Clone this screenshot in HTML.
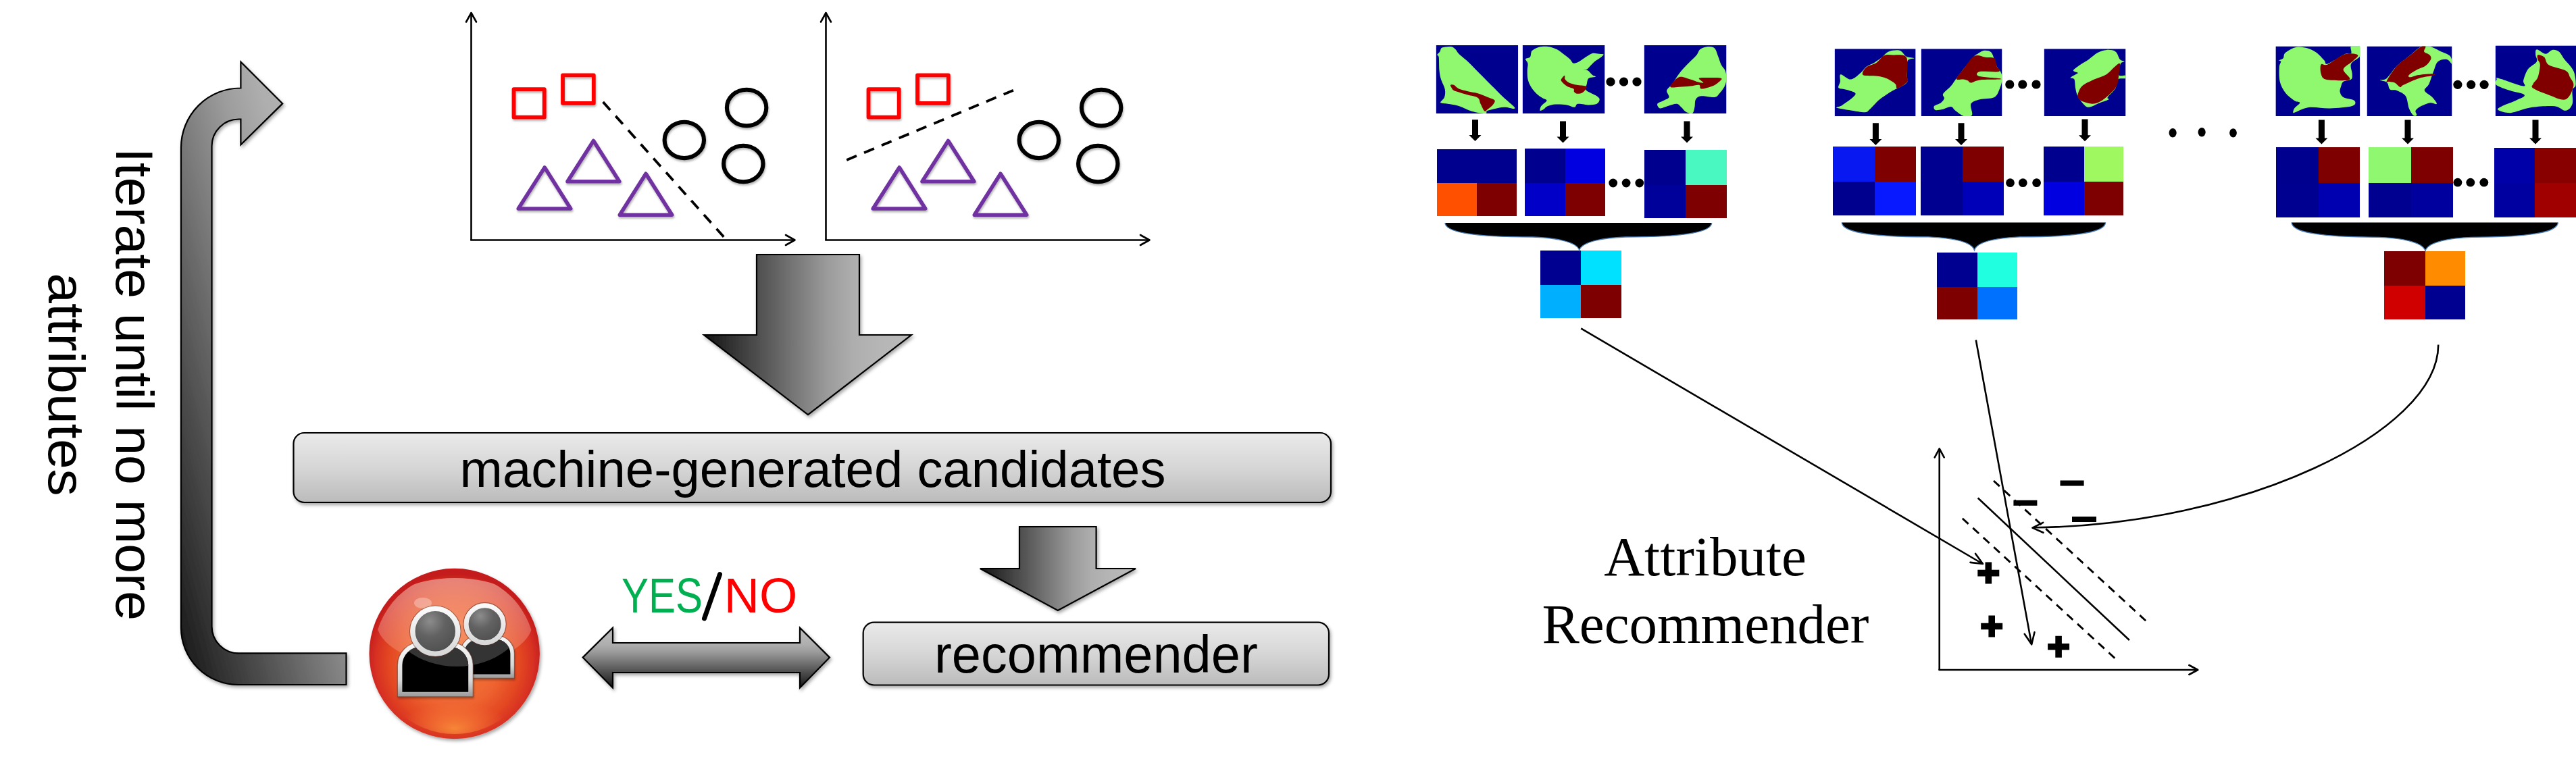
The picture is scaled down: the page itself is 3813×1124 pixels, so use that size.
<!DOCTYPE html>
<html><head><meta charset="utf-8"><style>
html,body{margin:0;padding:0;background:#fff;overflow:hidden;}
svg{display:block;}
</style></head><body>
<svg width="3813" height="1124" viewBox="0 0 3813 1124">
<rect width="3813" height="1124" fill="#fff"/>

<defs>
 <filter id="sh" x="-20%" y="-20%" width="140%" height="140%">
   <feDropShadow dx="2" dy="3" stdDeviation="2.5" flood-color="#000" flood-opacity="0.35"/>
 </filter>
 <filter id="shs" x="-20%" y="-20%" width="140%" height="140%">
   <feDropShadow dx="1" dy="2.5" stdDeviation="1.5" flood-color="#000" flood-opacity="0.3"/>
 </filter>
 <linearGradient id="gCurve" x1="0" y1="1" x2="1" y2="0">
   <stop offset="0" stop-color="#141414"/>
   <stop offset="0.6" stop-color="#9c9c9c"/>
   <stop offset="0.72" stop-color="#aeaeae"/>
   <stop offset="0.85" stop-color="#b6b6b6"/>
   <stop offset="1" stop-color="#bababa"/>
 </linearGradient>
 <linearGradient id="gH" x1="0" y1="0" x2="1" y2="0">
   <stop offset="0" stop-color="#141414"/>
   <stop offset="0.6" stop-color="#9c9c9c"/>
   <stop offset="0.72" stop-color="#aeaeae"/>
   <stop offset="0.85" stop-color="#b6b6b6"/>
   <stop offset="1" stop-color="#bababa"/>
 </linearGradient>
 <linearGradient id="gV" x1="0" y1="1" x2="0" y2="0">
   <stop offset="0" stop-color="#141414"/>
   <stop offset="0.6" stop-color="#9c9c9c"/>
   <stop offset="0.72" stop-color="#aeaeae"/>
   <stop offset="0.85" stop-color="#b6b6b6"/>
   <stop offset="1" stop-color="#bababa"/>
 </linearGradient>
 <linearGradient id="gBox" x1="0" y1="0" x2="0" y2="1">
   <stop offset="0" stop-color="#eaeaea"/>
   <stop offset="0.5" stop-color="#d6d6d6"/>
   <stop offset="1" stop-color="#bbbbbb"/>
 </linearGradient>
 <radialGradient id="gBall" cx="0.5" cy="0.55" r="0.52">
   <stop offset="0" stop-color="#f47a3a"/>
   <stop offset="0.5" stop-color="#ef6430"/>
   <stop offset="0.72" stop-color="#e44a24"/>
   <stop offset="0.88" stop-color="#d83224"/>
   <stop offset="1" stop-color="#c41c1c"/>
 </radialGradient>
 <linearGradient id="gBallHi" x1="0" y1="0" x2="0" y2="1">
   <stop offset="0" stop-color="#ffe0d0" stop-opacity="0.5"/>
   <stop offset="1" stop-color="#ffd0c0" stop-opacity="0.18"/>
 </linearGradient>
 <radialGradient id="gBallLow" cx="0.5" cy="0.85" r="0.5">
   <stop offset="0" stop-color="#ffa040" stop-opacity="0.7"/>
   <stop offset="1" stop-color="#ff8040" stop-opacity="0"/>
 </radialGradient>
 <radialGradient id="gHead" cx="0.38" cy="0.28" r="0.75">
   <stop offset="0" stop-color="#8c8c8c"/>
   <stop offset="0.45" stop-color="#626262"/>
   <stop offset="1" stop-color="#4e4e4e"/>
 </radialGradient>
 <linearGradient id="gSilverR" x1="0" y1="0" x2="0" y2="1">
   <stop offset="0" stop-color="#fafafa"/>
   <stop offset="1" stop-color="#d8d8d8"/>
 </linearGradient>
 <linearGradient id="gSilver" x1="0" y1="0" x2="0" y2="1">
   <stop offset="0" stop-color="#f8f8f8"/>
   <stop offset="0.7" stop-color="#d8d8d8"/>
   <stop offset="1" stop-color="#9a9a9a"/>
 </linearGradient>
 <linearGradient id="gBody" x1="0" y1="0" x2="0" y2="1">
   <stop offset="0" stop-color="#3a3a3a"/>
   <stop offset="0.35" stop-color="#0a0a0a"/>
   <stop offset="1" stop-color="#000"/>
 </linearGradient>
 <marker id="mOpen" markerWidth="20" markerHeight="20" refX="10" refY="10" orient="auto" markerUnits="userSpaceOnUse">
 </marker>
</defs>

<path d="M356.4 130.5 A88 88 0 0 0 268 218.5 L268 929.5 A84.5 84.5 0 0 0 352.5 1014 L512.5 1014 L512.5 967.4 L353.5 967.4 A40 40 0 0 1 313.5 927.4 L313.5 216.5 A40 40 0 0 1 353.5 176.5 L356.4 176.5 L356.4 214.3 L418.2 153.4 L356.4 91.6 Z" fill="url(#gCurve)" stroke="#000" stroke-width="2.2" stroke-linejoin="miter" filter="url(#sh)"/><text transform="translate(171.5,569) rotate(90)" font-family="Liberation Sans" font-size="77" text-anchor="middle" fill="#000" textLength="700" lengthAdjust="spacingAndGlyphs">Iterate until no more</text><text transform="translate(72,569.5) rotate(90)" font-family="Liberation Sans" font-size="76" text-anchor="middle" fill="#000" textLength="330.6" lengthAdjust="spacingAndGlyphs">attributes</text><line x1="697.5" y1="19" x2="697.5" y2="355.5" stroke="#000" stroke-width="2.6"/><line x1="696.2" y1="355.5" x2="1176" y2="355.5" stroke="#000" stroke-width="2.6"/><polyline points="705.0,32.5 697.5,19.0 690.0,32.5" fill="none" stroke="#000" stroke-width="2.6" stroke-linecap="round" stroke-linejoin="round"/><polyline points="1163.0,363.0 1176.5,355.5 1163.0,348.0" fill="none" stroke="#000" stroke-width="2.6" stroke-linecap="round" stroke-linejoin="round"/><g filter="url(#shs)"><rect x="760.5" y="132.2" width="45.2" height="41.4" fill="none" stroke="#ff0000" stroke-width="5.8" stroke-linejoin="round"/><rect x="833" y="111.3" width="45.8" height="41.5" fill="none" stroke="#ff0000" stroke-width="5.8" stroke-linejoin="round"/><polygon points="806.2,248 844.7,309 767.2,309" fill="none" stroke="#7030a0" stroke-width="5.6" stroke-linejoin="round"/><polygon points="878.5,208.5 916.8,268.7 840,268.7" fill="none" stroke="#7030a0" stroke-width="5.6" stroke-linejoin="round"/><polygon points="956,257.3 994.7,318.2 917.3,318.2" fill="none" stroke="#7030a0" stroke-width="5.6" stroke-linejoin="round"/><ellipse cx="1012.8" cy="207.4" rx="29.2" ry="26.7" fill="none" stroke="#000" stroke-width="6.1"/><ellipse cx="1105.1" cy="159.5" rx="29.2" ry="26.7" fill="none" stroke="#000" stroke-width="6.1"/><ellipse cx="1100.3" cy="242.5" rx="29.2" ry="26.7" fill="none" stroke="#000" stroke-width="6.1"/></g><line x1="892.6" y1="151" x2="1071.3" y2="350.8" stroke="#000" stroke-width="3.8" stroke-dasharray="16 12"/><line x1="1222.5" y1="19" x2="1222.5" y2="355.5" stroke="#000" stroke-width="2.6"/><line x1="1221.2" y1="355.5" x2="1701" y2="355.5" stroke="#000" stroke-width="2.6"/><polyline points="1230.0,32.5 1222.5,19.0 1215.0,32.5" fill="none" stroke="#000" stroke-width="2.6" stroke-linecap="round" stroke-linejoin="round"/><polyline points="1688.0,363.0 1701.5,355.5 1688.0,348.0" fill="none" stroke="#000" stroke-width="2.6" stroke-linecap="round" stroke-linejoin="round"/><g filter="url(#shs)"><rect x="1285.5" y="132.2" width="45.2" height="41.4" fill="none" stroke="#ff0000" stroke-width="5.8" stroke-linejoin="round"/><rect x="1358" y="111.3" width="45.8" height="41.5" fill="none" stroke="#ff0000" stroke-width="5.8" stroke-linejoin="round"/><polygon points="1331.2,248 1369.7,309 1292.2,309" fill="none" stroke="#7030a0" stroke-width="5.6" stroke-linejoin="round"/><polygon points="1403.5,208.5 1441.8,268.7 1365,268.7" fill="none" stroke="#7030a0" stroke-width="5.6" stroke-linejoin="round"/><polygon points="1481,257.3 1519.7,318.2 1442.3,318.2" fill="none" stroke="#7030a0" stroke-width="5.6" stroke-linejoin="round"/><ellipse cx="1537.8" cy="207.4" rx="29.2" ry="26.7" fill="none" stroke="#000" stroke-width="6.1"/><ellipse cx="1630.1" cy="159.5" rx="29.2" ry="26.7" fill="none" stroke="#000" stroke-width="6.1"/><ellipse cx="1625.3" cy="242.5" rx="29.2" ry="26.7" fill="none" stroke="#000" stroke-width="6.1"/></g><line x1="1253.2" y1="237" x2="1499.9" y2="133.7" stroke="#000" stroke-width="3.8" stroke-dasharray="16 12"/><path d="M1120 377 L1272 377 L1272 496 L1349 496 L1196 614 L1042 496 L1120 496 Z" fill="url(#gH)" stroke="#000" stroke-width="2.2" filter="url(#sh)"/><rect x="434.5" y="641" width="1535.5" height="103" rx="16" ry="16" fill="url(#gBox)" stroke="#000" stroke-width="2.2" filter="url(#sh)"/><text x="1203" y="720.6" font-family="Liberation Sans" font-size="76" text-anchor="middle" fill="#000" textLength="1045" lengthAdjust="spacingAndGlyphs">machine-generated candidates</text><path d="M1509 780 L1622.6 780 L1622.6 842 L1681 842 L1565.8 904 L1450.7 842 L1509 842 Z" fill="url(#gH)" stroke="#000" stroke-width="2.2" filter="url(#sh)"/><rect x="1277.7" y="921.6" width="689.3" height="92.9" rx="16" ry="16" fill="url(#gBox)" stroke="#000" stroke-width="2.2" filter="url(#sh)"/><text x="1622.4" y="996" font-family="Liberation Sans" font-size="77" text-anchor="middle" fill="#000" textLength="478.8" lengthAdjust="spacingAndGlyphs">recommender</text><text x="920" y="907" font-family="Liberation Sans" font-size="72" fill="#00b050" textLength="120" lengthAdjust="spacingAndGlyphs">YES</text><path d="M1065.5 850.5 L1042.5 916" stroke="#000" stroke-width="7" stroke-linecap="round"/><text x="1071.8" y="907" font-family="Liberation Sans" font-size="72" fill="#ff0000" textLength="108.5" lengthAdjust="spacingAndGlyphs">NO</text><path d="M862.6 973.6 L907 929.6 L907 952 L1184 952 L1184 929.6 L1228 973.6 L1184 1018.5 L1184 996 L907 996 L907 1018.5 Z" fill="url(#gV)" stroke="#000" stroke-width="2.2" filter="url(#sh)"/><g filter="url(#sh)">
<circle cx="672.7" cy="968" r="126.2" fill="url(#gBall)"/>
</g>
<defs><clipPath id="cpGloss"><ellipse cx="676" cy="905" rx="104" ry="82"/></clipPath><clipPath id="cpBall"><circle cx="672.7" cy="968" r="119"/></clipPath></defs>
<g clip-path="url(#cpBall)">
<ellipse cx="673" cy="920" rx="116" ry="64" fill="url(#gBallHi)"/>
<ellipse cx="672.7" cy="1052" rx="85" ry="38" fill="url(#gBallLow)"/>
</g>
<ellipse cx="626" cy="893" rx="13" ry="8" fill="#fff" opacity="0.3"/>
<g filter="url(#shs)"><path d="M681 1004.4 V968 A27 27 0 0 1 708 941 H734.4 A27 27 0 0 1 761.4 968 V1004.4 Z" fill="url(#gSilver)" stroke="#5a3020" stroke-opacity="0.55" stroke-width="1.2"/></g><path d="M687 998.4 V968 A21 21 0 0 1 708 947 H734.4 A21 21 0 0 1 755.4 968 V998.4 Z" fill="#000"/><path d="M687 998.4 V968 A21 21 0 0 1 708 947 H734.4 A21 21 0 0 1 755.4 968 V998.4 Z" fill="#3a3a3a" clip-path="url(#cpGloss)" opacity="0.9"/><circle cx="717.6" cy="924.3" r="31.6" fill="none" stroke="#5a3020" stroke-opacity="0.55" stroke-width="1.2"/><circle cx="717.6" cy="924.3" r="27.5" fill="url(#gHead)" stroke="url(#gSilverR)" stroke-width="7"/><g filter="url(#shs)"><path d="M588.4 1031.8 V985 A34 34 0 0 1 622.4 951 H666.2 A34 34 0 0 1 700.2 985 V1031.8 Z" fill="url(#gSilver)" stroke="#5a3020" stroke-opacity="0.55" stroke-width="1.2"/></g><path d="M595.4 1024.8 V985 A27 27 0 0 1 622.4 958 H666.2 A27 27 0 0 1 693.2 985 V1024.8 Z" fill="#000"/><path d="M595.4 1024.8 V985 A27 27 0 0 1 622.4 958 H666.2 A27 27 0 0 1 693.2 985 V1024.8 Z" fill="#3a3a3a" clip-path="url(#cpGloss)" opacity="0.9"/><circle cx="644.3" cy="934.8" r="37.8" fill="none" stroke="#5a3020" stroke-opacity="0.55" stroke-width="1.2"/><circle cx="644.3" cy="934.8" r="33.5" fill="url(#gHead)" stroke="url(#gSilverR)" stroke-width="7.5"/><g transform="translate(2125.6,67)"><svg x="0" y="0" width="121.6" height="101.2" overflow="hidden"><rect x="0" y="0" width="121.6" height="101.2" fill="#00008f"/><path d="M9.0 3.6 C11.7 2.4 18.7 1.6 22.0 2.0 C25.3 2.4 26.8 4.2 28.8 6.0 C30.8 7.8 31.0 9.9 33.8 12.7 C36.5 15.5 41.2 18.8 45.3 22.6 C49.4 26.4 54.1 31.3 58.5 35.7 C62.9 40.1 67.0 44.2 71.7 48.9 C76.4 53.6 81.8 59.0 86.5 63.7 C91.2 68.4 95.0 72.5 99.7 76.9 C104.4 81.3 111.9 87.2 114.5 90.0 C117.1 92.8 117.8 93.7 115.3 94.0 C112.8 94.3 106.2 91.2 99.7 91.7 C93.2 92.2 81.0 95.2 76.6 96.7 C72.2 98.2 77.1 100.8 73.3 101.0 C69.5 101.2 60.1 99.8 53.5 98.0 C46.9 96.2 39.8 91.9 33.8 90.0 C27.8 88.1 21.8 87.6 17.3 86.8 C12.8 86.0 7.4 86.7 6.6 85.0 C5.8 83.3 11.3 80.2 12.4 76.9 C13.5 73.6 14.0 69.8 13.2 65.4 C12.4 61.0 8.8 55.3 7.4 50.6 C6.0 45.9 5.5 42.9 4.9 37.4 C4.4 31.9 4.6 21.5 4.1 17.6 C3.5 13.8 1.3 15.7 1.6 14.3 C1.9 12.9 4.6 11.2 5.8 9.4 C7.0 7.6 6.3 4.8 9.0 3.6 Z" fill="#90f86f"/><path d="M21.4 58.8 C22.0 58.1 24.3 57.8 26.4 58.8 C28.5 59.8 30.4 63.0 33.8 64.6 C37.2 66.2 42.3 67.1 47.0 68.2 C51.7 69.3 56.9 69.8 61.8 71.2 C66.7 72.7 72.4 75.2 76.6 76.9 C80.8 78.6 85.6 79.6 86.8 81.5 C88.0 83.4 85.8 86.2 84.0 88.5 C82.2 90.8 78.2 93.5 76.2 95.0 C74.2 96.5 73.4 98.9 71.7 97.5 C70.0 96.1 67.6 90.1 65.9 86.8 C64.2 83.5 65.0 80.0 61.8 77.8 C58.6 75.6 51.7 75.0 47.0 73.6 C42.3 72.2 37.2 70.6 33.8 69.5 C30.4 68.4 28.2 68.1 26.4 67.0 C24.6 65.9 23.8 64.3 23.0 62.9 C22.2 61.5 20.8 59.5 21.4 58.8 Z" fill="#800000"/></svg></g><g transform="translate(2253.6,67)"><svg x="0" y="0" width="121.9" height="101.2" overflow="hidden"><rect x="0" y="0" width="121.9" height="101.2" fill="#00008f"/><path d="M14.5 7.7 C16.4 6.3 20.5 3.8 24.4 2.8 C28.2 1.8 33.2 1.5 37.6 2.0 C42.0 2.5 46.6 4.0 50.7 6.1 C54.8 8.2 59.0 11.8 62.3 14.3 C65.6 16.8 68.3 18.9 70.5 21.0 C72.7 23.1 73.3 26.2 75.5 26.7 C77.7 27.2 80.7 25.7 83.7 24.2 C86.7 22.7 90.3 19.7 93.6 17.6 C96.9 15.6 100.1 12.7 103.4 11.9 C106.7 11.1 110.5 12.4 113.3 12.7 C116.0 13.0 119.4 12.7 119.9 13.5 C120.5 14.3 118.8 15.8 116.6 17.6 C114.4 19.4 109.4 22.0 106.7 24.2 C104.0 26.4 102.1 28.9 100.2 30.8 C98.3 32.7 96.9 34.7 95.2 35.7 C93.5 36.7 90.0 36.3 90.3 36.6 C90.6 36.9 94.6 36.2 96.8 37.4 C99.0 38.6 101.5 42.5 103.4 44.0 C105.3 45.5 108.9 45.8 108.4 46.5 C107.9 47.2 102.1 47.4 100.2 48.1 C98.3 48.8 97.6 49.1 96.8 50.6 C96.0 52.1 95.7 54.7 95.2 57.2 C94.7 59.7 92.8 63.2 93.6 65.4 C94.4 67.6 97.5 68.7 100.2 70.3 C102.9 71.9 107.7 73.6 110.0 75.3 C112.3 77.0 114.1 78.3 114.1 80.2 C114.1 82.1 112.6 85.4 110.0 86.8 C107.4 88.2 103.2 88.4 98.5 88.4 C93.8 88.4 85.6 86.2 82.0 86.8 C78.4 87.3 79.8 91.4 77.1 91.7 C74.3 92.0 70.2 89.1 65.5 88.4 C60.8 87.7 53.6 87.3 49.0 87.6 C44.4 87.9 40.6 88.9 37.6 90.1 C34.6 91.3 32.9 93.9 31.0 95.0 C29.1 96.1 26.6 97.5 26.0 96.7 C25.4 95.9 26.1 92.6 27.7 90.1 C29.3 87.6 35.6 83.9 35.9 81.9 C36.2 79.9 31.8 79.8 29.3 78.1 C26.8 76.4 23.8 74.7 21.0 72.0 C18.2 69.3 15.0 65.7 12.8 62.1 C10.6 58.5 8.9 54.7 7.9 50.6 C7.0 46.5 7.1 41.2 7.1 37.4 C7.1 33.5 8.2 30.0 7.9 27.5 C7.6 25.0 6.0 23.8 5.4 22.6 C4.9 21.4 3.6 20.9 4.6 20.1 C5.6 19.3 9.8 19.1 11.2 17.6 C12.6 16.1 12.2 12.7 12.8 11.0 C13.4 9.3 12.6 9.1 14.5 7.7 Z" fill="#90f86f"/><path d="M62.3 44.8 C63.3 44.8 62.0 48.8 63.1 50.6 C64.2 52.4 66.0 54.1 68.9 55.5 C71.8 56.9 76.3 58.0 80.4 58.8 C84.5 59.6 91.3 59.7 93.6 60.5 C95.9 61.3 95.2 62.1 94.4 63.7 C93.6 65.3 90.9 69.0 88.6 70.3 C86.3 71.6 82.5 72.0 80.4 71.7 C78.4 71.4 77.1 69.9 76.3 68.7 C75.5 67.5 77.3 66.0 75.5 64.6 C73.7 63.2 68.5 62.3 65.6 60.5 C62.7 58.7 59.6 55.5 58.2 53.9 C56.8 52.2 56.6 52.1 57.3 50.6 C58.0 49.1 61.3 44.8 62.3 44.8 Z" fill="#800000"/></svg></g><g transform="translate(2433.6,67)"><svg x="0" y="0" width="121.9" height="101.2" overflow="hidden"><rect x="0" y="0" width="121.9" height="101.2" fill="#00008f"/><path d="M94.6 2.0 C98.2 1.7 101.9 2.1 104.4 4.4 C106.9 6.7 107.8 11.9 109.4 16.0 C111.1 20.1 112.5 25.6 114.3 29.2 C116.1 32.8 118.7 34.1 120.0 37.4 C121.3 40.7 122.0 45.0 121.9 48.9 C121.8 52.8 121.1 56.6 119.3 60.5 C117.5 64.3 113.5 69.3 111.0 72.0 C108.5 74.7 108.8 76.4 104.4 76.9 C100.0 77.5 89.4 74.8 84.7 75.3 C80.0 75.8 78.1 77.5 76.4 80.2 C74.8 83.0 75.6 88.4 74.8 91.8 C74.0 95.2 73.7 99.7 71.5 100.8 C69.3 101.9 64.3 99.9 61.6 98.4 C58.9 96.9 57.2 93.7 55.0 91.8 C52.8 89.9 51.7 87.1 48.4 86.8 C45.1 86.5 39.3 88.9 35.2 90.0 C31.1 91.1 26.3 93.9 23.7 93.4 C21.1 92.9 18.8 88.7 19.6 86.8 C20.4 84.9 25.8 83.6 28.7 81.9 C31.6 80.2 36.1 79.4 36.9 76.9 C37.7 74.4 32.8 70.3 33.6 67.0 C34.4 63.7 38.8 61.3 41.8 57.2 C44.8 53.1 48.4 46.7 51.7 42.3 C55.0 37.9 58.6 34.1 61.6 30.8 C64.6 27.5 67.1 25.4 69.8 22.6 C72.5 19.9 75.8 17.1 78.0 14.3 C80.2 11.5 80.2 8.1 83.0 6.0 C85.8 3.9 91.0 2.3 94.6 2.0 Z" fill="#90f86f"/><path d="M38.6 61.3 C38.6 58.9 46.8 49.1 51.7 47.3 C56.6 45.5 63.8 49.5 68.2 50.6 C72.6 51.7 74.7 53.1 78.0 53.9 C81.3 54.7 87.3 56.3 87.8 55.5 C88.3 54.7 80.1 50.1 81.2 48.9 C82.3 47.7 88.9 48.1 94.4 48.1 C99.9 48.1 111.8 47.7 114.3 48.9 C116.8 50.1 111.6 53.6 109.4 55.5 C107.2 57.4 105.3 59.0 101.2 60.5 C97.1 62.0 88.0 64.9 84.7 64.6 C81.4 64.3 84.2 59.5 81.5 58.8 C78.8 58.1 73.2 60.0 68.2 60.5 C63.2 61.0 56.6 61.7 51.7 61.8 C46.8 61.9 38.6 63.7 38.6 61.3 Z" fill="#800000"/></svg></g><g transform="translate(2715.6,72.3)"><svg x="0" y="0" width="120" height="100" overflow="hidden"><rect x="0" y="0" width="120" height="100" fill="#00008f"/><path d="M9.0 37.9 C11.6 37.3 18.9 45.7 23.9 45.3 C28.8 44.9 34.9 38.5 38.7 35.4 C42.6 32.2 43.7 28.9 47.0 26.4 C50.3 23.9 54.7 22.9 58.5 20.6 C62.3 18.3 66.4 15.2 70.0 12.4 C73.6 9.7 75.5 5.8 79.9 4.1 C84.3 2.4 92.0 1.3 96.4 2.5 C100.8 3.7 102.6 9.6 106.2 11.5 C109.8 13.4 117.5 12.9 117.8 14.0 C118.1 15.1 109.7 13.7 107.9 18.1 C106.1 22.5 107.1 35.3 107.1 40.4 C107.1 45.5 109.1 46.1 107.9 48.6 C106.7 51.1 103.3 53.0 99.7 55.2 C96.1 57.4 92.0 58.5 86.5 61.8 C81.0 65.1 72.5 70.3 66.7 75.0 C60.9 79.7 55.5 86.6 51.9 89.8 C48.3 93.0 49.7 93.6 45.3 93.9 C40.9 94.2 31.3 92.2 25.5 91.4 C19.7 90.6 14.5 89.7 10.7 89.0 C6.9 88.3 2.8 88.0 2.5 87.3 C2.2 86.6 7.1 85.8 9.0 84.8 C10.9 83.8 11.0 83.7 14.0 81.5 C17.0 79.3 24.4 74.3 27.2 71.6 C29.9 68.9 32.1 67.2 30.5 65.4 C28.9 63.6 21.4 61.8 17.3 60.5 C13.2 59.2 7.3 59.7 5.8 57.7 C4.3 55.7 7.7 51.9 8.2 48.6 C8.7 45.3 6.4 38.5 9.0 37.9 Z" fill="#90f86f"/><path d="M42.0 38.7 C39.3 36.5 43.7 30.2 47.0 27.2 C50.3 24.2 57.4 23.5 61.8 20.6 C66.2 17.7 69.2 11.8 73.3 9.9 C77.4 8.0 81.0 8.7 86.5 9.1 C92.0 9.5 102.8 7.2 106.2 12.4 C109.6 17.6 106.8 34.4 107.1 40.4 C107.4 46.4 110.2 45.6 107.9 48.6 C105.6 51.6 96.0 58.0 93.0 58.5 C90.0 59.0 92.5 54.4 89.8 51.9 C87.1 49.4 81.0 45.6 76.6 43.7 C72.2 41.8 69.2 41.2 63.4 40.4 C57.6 39.6 44.7 40.9 42.0 38.7 Z" fill="#800000"/></svg></g><g transform="translate(2843.6,72.3)"><svg x="0" y="0" width="119.9" height="99.7" overflow="hidden"><rect x="0" y="0" width="119.9" height="99.7" fill="#00008f"/><path d="M83.7 7.4 C86.2 6.0 90.3 2.9 93.6 2.5 C96.9 2.1 101.0 2.7 103.5 4.9 C106.0 7.1 107.1 12.3 108.5 15.7 C109.9 19.1 110.1 22.2 111.8 25.5 C113.5 28.8 117.0 32.1 118.4 35.4 C119.8 38.7 120.3 41.4 120.0 45.3 C119.7 49.1 118.5 54.1 116.6 58.5 C114.7 62.9 113.4 68.9 108.5 71.6 C103.6 74.3 92.8 73.2 87.0 74.9 C81.2 76.6 75.7 77.7 73.8 81.5 C71.9 85.3 77.1 94.9 75.4 98.0 C73.8 101.1 68.0 101.1 63.9 100.0 C59.8 98.9 54.0 93.8 50.7 91.4 C47.4 89.0 47.4 85.9 44.1 85.6 C40.8 85.3 34.9 89.0 31.0 89.8 C27.1 90.6 22.9 91.4 21.0 90.6 C19.1 89.8 18.0 86.6 19.4 84.8 C20.8 83.0 26.8 81.8 29.3 79.9 C31.8 78.0 33.8 75.5 34.3 73.3 C34.8 71.1 31.0 69.7 32.6 66.7 C34.2 63.7 40.8 59.0 44.1 55.2 C47.4 51.4 49.3 47.8 52.3 43.7 C55.3 39.6 59.3 34.4 62.3 30.5 C65.3 26.6 67.8 23.9 70.5 20.6 C73.2 17.3 76.6 12.9 78.8 10.7 C81.0 8.5 81.2 8.8 83.7 7.4 Z" fill="#90f86f"/><path d="M52.3 44.5 C52.3 42.0 57.9 36.1 62.3 30.5 C66.7 24.9 73.3 13.7 78.8 10.7 C84.3 7.7 90.3 11.8 95.3 12.4 C100.2 13.0 105.8 11.8 108.5 14.0 C111.2 16.2 110.7 22.2 111.8 25.5 C112.9 28.8 119.2 32.4 115.1 33.8 C111.0 35.2 92.0 32.7 87.0 33.8 C82.0 34.9 80.6 38.8 85.3 40.4 C90.0 42.0 110.1 42.9 115.1 43.7 C120.1 44.5 119.8 44.9 115.1 45.3 C110.4 45.7 93.9 45.3 87.0 46.1 C80.1 46.9 76.8 50.1 73.8 50.2 C70.8 50.4 70.8 47.8 68.9 47.0 C67.0 46.2 65.1 45.7 62.3 45.3 C59.5 44.9 52.3 47.0 52.3 44.5 Z" fill="#800000"/></svg></g><g transform="translate(3025.6,72.3)"><svg x="0" y="0" width="120.9" height="99.7" overflow="hidden"><rect x="0" y="0" width="120.9" height="99.7" fill="#00008f"/><path d="M43.2 32.1 C43.7 30.2 49.2 26.6 53.0 23.9 C56.8 21.1 61.8 18.6 66.2 15.6 C70.6 12.6 75.0 8.1 79.4 5.8 C83.8 3.5 88.2 1.9 92.6 1.6 C97.0 1.3 102.5 1.7 105.8 4.1 C109.1 6.4 110.2 13.2 112.4 15.7 C114.6 18.2 118.9 17.9 119.0 19.0 C119.1 20.1 114.6 18.9 113.2 22.2 C111.8 25.5 109.4 35.8 110.7 38.7 C112.0 41.6 119.3 38.7 121.0 39.5 C122.7 40.3 123.0 42.7 121.0 43.7 C119.0 44.7 111.7 42.8 109.2 45.3 C106.7 47.8 108.3 54.1 105.8 58.5 C103.3 62.9 95.9 69.0 94.2 71.7 C92.5 74.5 97.7 73.6 95.8 75.0 C93.9 76.4 87.6 78.0 82.7 79.9 C77.8 81.8 70.3 86.2 66.2 86.5 C62.1 86.8 60.7 84.2 58.0 81.5 C55.3 78.8 51.7 73.8 49.8 70.0 C47.9 66.2 47.3 62.6 46.5 58.5 C45.7 54.4 46.0 47.9 44.8 45.3 C43.5 42.7 38.5 44.2 39.0 42.8 C39.5 41.4 46.2 38.3 48.0 37.1 C49.8 35.9 50.6 36.2 49.8 35.4 C49.0 34.6 42.7 34.0 43.2 32.1 Z" fill="#90f86f"/><path d="M49.8 68.4 C50.6 65.2 52.2 59.1 56.3 55.2 C60.4 51.4 68.4 48.2 74.4 45.3 C80.5 42.4 87.4 40.9 92.6 37.6 C97.8 34.3 102.5 28.1 105.8 25.5 C109.1 22.9 111.6 20.0 112.4 22.2 C113.2 24.4 111.5 33.2 110.7 38.7 C109.9 44.2 109.9 50.2 107.4 55.2 C104.9 60.2 100.0 64.6 95.9 68.4 C91.8 72.2 86.8 76.1 82.7 78.3 C78.6 80.5 75.3 81.5 71.2 81.5 C67.1 81.5 61.3 79.5 58.0 78.3 C54.7 77.1 52.8 75.8 51.4 74.1 C50.0 72.4 49.0 71.6 49.8 68.4 Z" fill="#800000"/></svg></g><g transform="translate(3368.4,68.5)"><svg x="0" y="0" width="124.9" height="103.5" overflow="hidden"><rect x="0" y="0" width="124.9" height="103.5" fill="#00008f"/><path d="M14.5 9.6 C17.8 6.8 25.5 2.4 31.0 1.3 C36.5 0.2 42.5 1.6 47.4 3.0 C52.3 4.4 56.5 6.6 60.6 9.6 C64.7 12.6 69.4 18.4 72.1 21.1 C74.8 23.8 72.0 27.5 77.0 26.0 C82.0 24.5 96.0 14.6 101.8 12.0 C107.6 9.4 110.0 12.4 111.7 10.4 C113.4 8.4 109.5 1.7 111.7 0.0 C113.9 -1.7 122.8 -2.4 125.0 0.0 C127.2 2.4 127.2 10.2 125.0 14.5 C122.8 18.8 113.7 21.6 111.7 26.0 C109.8 30.4 113.3 36.9 113.3 40.8 C113.3 44.6 113.9 47.2 111.7 49.1 C109.5 51.0 102.7 50.8 100.2 52.4 C97.7 54.0 97.7 56.5 96.9 59.0 C96.1 61.5 94.7 64.5 95.2 67.2 C95.8 69.9 96.6 73.2 100.2 75.4 C103.8 77.6 114.4 78.2 116.6 80.4 C118.8 82.6 119.3 86.7 113.3 88.6 C107.3 90.5 90.8 91.6 80.4 91.9 C70.0 92.2 58.9 89.5 50.7 90.3 C42.5 91.1 35.1 95.5 31.0 96.9 C26.9 98.3 26.6 99.3 26.0 98.5 C25.4 97.7 26.1 94.4 27.7 91.9 C29.3 89.4 35.9 85.6 35.9 83.7 C35.9 81.8 31.3 82.9 27.7 80.4 C24.1 77.9 18.1 73.6 14.5 68.9 C10.9 64.2 7.8 58.7 6.3 52.4 C4.8 46.1 5.1 36.0 5.4 31.0 C5.7 26.1 8.0 24.3 7.9 22.7 C7.8 21.1 4.0 21.9 4.6 21.1 C5.1 20.3 9.5 19.7 11.2 17.8 C12.8 15.9 11.2 12.3 14.5 9.6 Z" fill="#90f86f"/><path d="M67.2 26.9 C68.8 24.6 71.2 29.4 77.0 26.9 C82.8 24.4 94.4 14.3 101.8 12.0 C109.2 9.7 119.7 11.1 121.6 12.9 C123.5 14.7 116.9 19.1 113.3 22.7 C109.7 26.3 100.8 30.0 100.2 34.3 C99.7 38.6 110.5 45.6 110.0 48.3 C109.5 51.0 102.9 50.6 96.9 50.7 C90.9 50.8 78.8 50.8 73.8 49.1 C68.8 47.5 68.3 44.5 67.2 40.8 C66.1 37.1 65.6 29.2 67.2 26.9 Z" fill="#800000"/></svg></g><g transform="translate(3503.5,68.5)"><svg x="0" y="0" width="126" height="103.5" overflow="hidden"><rect x="0" y="0" width="126" height="103.5" fill="#00008f"/><path d="M19.4 49.9 C19.7 49.1 25.2 50.8 29.3 47.4 C33.4 44.0 38.9 34.5 44.1 29.3 C49.3 24.1 54.5 20.9 60.6 16.1 C66.7 11.3 74.9 3.1 80.4 0.5 C85.9 -2.1 88.6 -0.7 93.5 0.5 C98.4 1.7 105.0 5.6 110.0 7.9 C115.0 10.2 120.5 11.5 123.2 14.5 C125.9 17.5 126.8 25.2 126.0 26.0 C125.2 26.8 121.8 19.9 118.3 19.4 C114.8 18.8 108.4 19.7 105.1 22.7 C101.8 25.7 100.7 32.1 98.5 37.6 C96.3 43.1 94.2 51.0 92.0 55.7 C89.8 60.4 84.5 62.3 85.3 65.6 C86.1 68.9 93.8 72.2 96.8 75.5 C99.8 78.8 104.0 83.9 103.4 85.3 C102.9 86.7 97.3 83.2 93.5 83.7 C89.7 84.2 84.0 86.7 80.4 88.6 C76.8 90.5 73.2 93.0 72.1 95.2 C71.0 97.4 74.3 100.6 73.8 101.8 C73.3 103.0 70.8 104.2 68.9 102.6 C67.0 100.9 64.2 96.7 62.3 91.9 C60.4 87.1 60.3 78.2 57.3 73.8 C54.3 69.4 47.9 67.2 44.1 65.6 C40.3 64.0 36.5 65.7 34.3 64.0 C32.1 62.4 32.1 57.6 31.0 55.7 C29.9 53.8 29.6 53.4 27.7 52.4 C25.8 51.4 19.1 50.7 19.4 49.9 Z" fill="#90f86f"/><path d="M29.3 51.4 C31.2 47.5 38.9 35.2 44.1 29.3 C49.3 23.4 54.5 20.9 60.6 16.1 C66.7 11.3 76.0 3.1 80.4 0.5 C84.8 -2.1 86.3 -0.8 87.0 0.5 C87.7 1.8 83.7 5.9 84.7 8.0 C85.7 10.1 91.2 11.0 92.9 12.9 C94.6 14.8 95.7 16.7 94.6 19.4 C93.5 22.1 89.7 26.8 86.4 29.3 C83.1 31.8 78.9 32.1 74.9 34.3 C70.9 36.5 64.1 40.6 62.3 42.5 C60.5 44.4 61.5 45.8 64.0 45.8 C66.5 45.8 71.3 43.3 77.1 42.5 C82.8 41.7 94.9 40.7 98.5 40.8 C102.1 40.9 102.1 42.2 98.5 43.3 C94.9 44.4 84.5 45.1 77.1 47.4 C69.7 49.7 58.6 55.1 54.0 57.3 C49.4 59.5 51.5 61.1 49.4 60.6 C47.3 60.1 43.9 55.4 41.2 54.0 C38.5 52.6 35.0 52.8 33.0 52.4 C31.0 52.0 27.4 55.2 29.3 51.4 Z" fill="#800000"/></svg></g><g transform="translate(3693.6,67.4)"><svg x="0" y="0" width="119.4" height="104.6" overflow="hidden"><rect x="0" y="0" width="119.4" height="104.6" fill="#00008f"/><path d="M2.0 50.2 C2.6 48.6 -1.3 47.0 5.3 48.6 C11.9 50.2 35.5 59.6 41.5 60.1 C47.5 60.6 40.4 56.0 41.5 51.9 C42.6 47.8 44.8 40.1 48.1 35.4 C51.4 30.7 59.4 27.5 61.3 23.9 C63.2 20.3 59.6 17.0 59.6 14.0 C59.6 11.0 58.8 6.1 61.3 5.8 C63.8 5.5 70.7 12.3 74.5 12.4 C78.3 12.5 81.0 7.1 84.3 6.6 C87.6 6.0 91.2 6.8 94.2 9.1 C97.2 11.4 99.4 16.8 102.4 20.6 C105.4 24.4 109.8 28.5 112.3 32.1 C114.8 35.7 116.2 37.6 117.3 42.0 C118.4 46.4 119.5 54.4 119.0 58.5 C118.5 62.6 114.8 62.0 114.0 66.7 C113.2 71.4 115.7 81.5 114.0 86.5 C112.3 91.5 108.5 95.9 104.1 96.4 C99.7 97.0 95.8 90.6 87.6 89.8 C79.4 89.0 64.3 90.0 54.7 91.4 C45.1 92.8 36.0 96.6 30.0 98.0 C24.0 99.4 22.9 100.2 18.5 99.7 C14.1 99.2 4.4 96.7 3.6 94.8 C2.8 92.9 9.1 90.4 13.5 88.2 C17.9 86.0 25.1 84.0 30.0 81.5 C35.0 79.0 44.6 75.8 43.2 73.3 C41.8 70.8 28.6 69.2 21.7 66.7 C14.8 64.2 4.9 61.2 1.6 58.5 C-1.7 55.8 1.4 51.9 2.0 50.2 Z" fill="#90f86f"/><path d="M62.9 14.0 C64.5 13.4 69.8 14.8 72.5 17.3 C75.2 19.8 74.0 25.5 79.3 28.8 C84.5 32.1 98.8 34.1 104.0 37.1 C109.2 40.1 108.5 43.1 110.5 46.9 C112.5 50.7 116.8 54.6 115.7 60.1 C114.6 65.6 110.1 77.7 104.0 79.9 C97.9 82.1 87.3 76.0 79.3 73.3 C71.3 70.5 59.9 66.2 56.0 63.4 C52.1 60.6 54.9 59.5 56.0 56.8 C57.1 54.0 61.2 51.6 62.9 46.9 C64.6 42.2 66.2 33.2 66.2 28.8 C66.2 24.4 63.5 23.1 62.9 20.6 C62.3 18.1 61.3 14.6 62.9 14.0 Z" fill="#800000"/></svg></g><circle cx="2384" cy="121.2" r="6.6" fill="#000"/><circle cx="2403.5" cy="121.2" r="6.6" fill="#000"/><circle cx="2423" cy="121.2" r="6.6" fill="#000"/><circle cx="2974.8" cy="125" r="6.6" fill="#000"/><circle cx="2993.8" cy="125" r="6.6" fill="#000"/><circle cx="3014" cy="125" r="6.6" fill="#000"/><circle cx="3637.9" cy="125.3" r="6.6" fill="#000"/><circle cx="3657.7" cy="125.3" r="6.6" fill="#000"/><circle cx="3677.1" cy="125.3" r="6.6" fill="#000"/><circle cx="2387.7" cy="271" r="6.4" fill="#000"/><circle cx="2407.1" cy="271" r="6.4" fill="#000"/><circle cx="2426.8" cy="271" r="6.4" fill="#000"/><circle cx="2975.5" cy="270.7" r="6.4" fill="#000"/><circle cx="2994.3" cy="270.7" r="6.4" fill="#000"/><circle cx="3014.6" cy="270.7" r="6.4" fill="#000"/><circle cx="3637.9" cy="270.2" r="6.4" fill="#000"/><circle cx="3656.8" cy="270.2" r="6.4" fill="#000"/><circle cx="3676.8" cy="270.2" r="6.4" fill="#000"/><ellipse cx="3216.1" cy="196.8" rx="5.6" ry="6.7" fill="#000"/><ellipse cx="3259.1" cy="195.8" rx="5.6" ry="6.7" fill="#000"/><ellipse cx="3305.5" cy="196.8" rx="5.4" ry="6.6" fill="#000"/><path d="M2179.0 177.3 L2188.0 177.3 L2188.0 199.9 L2192.5 199.9 L2183.5 208.9 L2174.5 199.9 L2179.0 199.9 Z" fill="#000"/><path d="M2309.0 179.4 L2318.0 179.4 L2318.0 202.6 L2322.5 202.6 L2313.5 211.6 L2304.5 202.6 L2309.0 202.6 Z" fill="#000"/><path d="M2492.5 179.4 L2501.5 179.4 L2501.5 202.6 L2506 202.6 L2497 211.6 L2488 202.6 L2492.5 202.6 Z" fill="#000"/><path d="M2771.9 182.3 L2780.9 182.3 L2780.9 206 L2785.4 206 L2776.4 215 L2767.4 206 L2771.9 206 Z" fill="#000"/><path d="M2898.5 182.3 L2907.5 182.3 L2907.5 206 L2912 206 L2903 215 L2894 206 L2898.5 206 Z" fill="#000"/><path d="M3081.5 176.5 L3090.5 176.5 L3090.5 200.3 L3095 200.3 L3086 209.3 L3077 200.3 L3081.5 200.3 Z" fill="#000"/><path d="M3431.9 177.4 L3440.9 177.4 L3440.9 204.6 L3445.4 204.6 L3436.4 213.6 L3427.4 204.6 L3431.9 204.6 Z" fill="#000"/><path d="M3559.5 177.4 L3568.5 177.4 L3568.5 204.6 L3573 204.6 L3564 213.6 L3555 204.6 L3559.5 204.6 Z" fill="#000"/><path d="M3748.5 177.4 L3757.5 177.4 L3757.5 204.6 L3762 204.6 L3753 213.6 L3744 204.6 L3748.5 204.6 Z" fill="#000"/><g shape-rendering="crispEdges"><rect x="2126.5" y="221.4" width="59.69999999999982" height="49.599999999999994" fill="#00008f"/><rect x="2186.2" y="221.4" width="59.20000000000027" height="49.599999999999994" fill="#00008f"/><rect x="2126.5" y="271" width="59.69999999999982" height="49" fill="#ff5000"/><rect x="2186.2" y="271" width="59.20000000000027" height="49" fill="#7f0000"/></g><g shape-rendering="crispEdges"><rect x="2256.7" y="220.3" width="60.0" height="50.69999999999999" fill="#00008f"/><rect x="2316.7" y="220.3" width="59.30000000000018" height="50.69999999999999" fill="#0000e0"/><rect x="2256.7" y="271" width="60.0" height="49" fill="#0000c8"/><rect x="2316.7" y="271" width="59.30000000000018" height="49" fill="#7f0000"/></g><g shape-rendering="crispEdges"><rect x="2433.8" y="222" width="60.79999999999973" height="51.60000000000002" fill="#00008f"/><rect x="2494.6" y="222" width="60.90000000000009" height="51.60000000000002" fill="#48f8c0"/><rect x="2433.8" y="273.6" width="60.79999999999973" height="49.39999999999998" fill="#00009a"/><rect x="2494.6" y="273.6" width="60.90000000000009" height="49.39999999999998" fill="#7f0000"/></g><g shape-rendering="crispEdges"><rect x="2712.6" y="217.4" width="62.0" height="51.29999999999998" fill="#0818f0"/><rect x="2774.6" y="217.4" width="60.90000000000009" height="51.29999999999998" fill="#7f0000"/><rect x="2712.6" y="268.7" width="62.0" height="50.10000000000002" fill="#00008f"/><rect x="2774.6" y="268.7" width="60.90000000000009" height="50.10000000000002" fill="#0818ff"/></g><g shape-rendering="crispEdges"><rect x="2842.8" y="217.4" width="61.69999999999982" height="51.29999999999998" fill="#000090"/><rect x="2904.5" y="217.4" width="61.69999999999982" height="51.29999999999998" fill="#7f0000"/><rect x="2842.8" y="268.7" width="61.69999999999982" height="50.10000000000002" fill="#000090"/><rect x="2904.5" y="268.7" width="61.69999999999982" height="50.10000000000002" fill="#0000b8"/></g><g shape-rendering="crispEdges"><rect x="3025.4" y="217.4" width="59.40000000000009" height="51.29999999999998" fill="#00008f"/><rect x="3084.8" y="217.4" width="58.19999999999982" height="51.29999999999998" fill="#a0f860"/><rect x="3025.4" y="268.7" width="59.40000000000009" height="50.10000000000002" fill="#0000e0"/><rect x="3084.8" y="268.7" width="58.19999999999982" height="50.10000000000002" fill="#7f0000"/></g><g shape-rendering="crispEdges"><rect x="3369.4" y="218" width="62.40000000000009" height="52.80000000000001" fill="#00008f"/><rect x="3431.8" y="218" width="61.399999999999636" height="52.80000000000001" fill="#7f0000"/><rect x="3369.4" y="270.8" width="62.40000000000009" height="51.0" fill="#000090"/><rect x="3431.8" y="270.8" width="61.399999999999636" height="51.0" fill="#0000b0"/></g><g shape-rendering="crispEdges"><rect x="3505.7" y="218" width="63.20000000000027" height="52.80000000000001" fill="#90f870"/><rect x="3568.9" y="218" width="62.29999999999973" height="52.80000000000001" fill="#7f0000"/><rect x="3505.7" y="270.8" width="63.20000000000027" height="51.0" fill="#000090"/><rect x="3568.9" y="270.8" width="62.29999999999973" height="51.0" fill="#00009f"/></g><g shape-rendering="crispEdges"><rect x="3691.5" y="218.9" width="60.90000000000009" height="51.900000000000006" fill="#0000a8"/><rect x="3752.4" y="218.9" width="60.59999999999991" height="51.900000000000006" fill="#880000"/><rect x="3691.5" y="270.8" width="60.90000000000009" height="51.0" fill="#0000a0"/><rect x="3752.4" y="270.8" width="60.59999999999991" height="51.0" fill="#a00000"/></g><g shape-rendering="crispEdges"><rect x="2280.3" y="371.2" width="59.5" height="50.60000000000002" fill="#000090"/><rect x="2339.8" y="371.2" width="59.69999999999982" height="50.60000000000002" fill="#00e0ff"/><rect x="2280.3" y="421.8" width="59.5" height="49.39999999999998" fill="#00b0ff"/><rect x="2339.8" y="421.8" width="59.69999999999982" height="49.39999999999998" fill="#7f0000"/></g><g shape-rendering="crispEdges"><rect x="2866.5" y="374" width="60.09999999999991" height="50.69999999999999" fill="#000090"/><rect x="2926.6" y="374" width="59.80000000000018" height="50.69999999999999" fill="#20ffe0"/><rect x="2866.5" y="424.7" width="60.09999999999991" height="48.30000000000001" fill="#7f0000"/><rect x="2926.6" y="424.7" width="59.80000000000018" height="48.30000000000001" fill="#0070ff"/></g><g shape-rendering="crispEdges"><rect x="3529.3" y="372.1" width="60.29999999999973" height="50.799999999999955" fill="#7f0000"/><rect x="3589.6" y="372.1" width="59.59999999999991" height="50.799999999999955" fill="#ff8c00"/><rect x="3529.3" y="422.9" width="60.29999999999973" height="50.10000000000002" fill="#d00000"/><rect x="3589.6" y="422.9" width="59.59999999999991" height="50.10000000000002" fill="#000090"/></g><path d="M2138.9 330 L2533.8 330 C2532.8 343.0 2499.3 351.0 2405.7 351.0 C2376.1 352.0 2341.6 357.0 2337.7 370.6 C2333.7 357.0 2298.7 352.0 2268.8 351.0 C2173.9 351.0 2139.9 343.0 2138.9 330 Z" fill="#000"/><path d="M2533.8 330 C2532.8 343.0 2499.3 351.0 2405.7 351.0 C2376.1 352.0 2341.6 357.0 2337.7 370.6 C2333.7 357.0 2298.7 352.0 2268.8 351.0 C2173.9 351.0 2139.9 343.0 2138.9 330" fill="none" stroke="#4a7ebb" stroke-width="1.3"/><path d="M2726.2 329.6 L3116.7 329.6 C3115.7 342.7 3082.5 350.8 2989.8 350.8 C2960.6 351.8 2926.4 356.8 2922.5 370.5 C2918.6 356.8 2884.0 351.8 2854.4 350.8 C2760.7 350.8 2727.2 342.7 2726.2 329.6 Z" fill="#000"/><path d="M3116.7 329.6 C3115.7 342.7 3082.5 350.8 2989.8 350.8 C2960.6 351.8 2926.4 356.8 2922.5 370.5 C2918.6 356.8 2884.0 351.8 2854.4 350.8 C2760.7 350.8 2727.2 342.7 2726.2 329.6" fill="none" stroke="#4a7ebb" stroke-width="1.3"/><path d="M3392 329.6 L3786.4 329.6 C3785.4 343.0 3751.9 351.3 3658.1 351.3 C3628.5 352.3 3593.9 357.5 3590 371.5 C3586.0 357.5 3551.2 352.3 3521.3 351.3 C3426.8 351.3 3393.0 343.0 3392 329.6 Z" fill="#000"/><path d="M3786.4 329.6 C3785.4 343.0 3751.9 351.3 3658.1 351.3 C3628.5 352.3 3593.9 357.5 3590 371.5 C3586.0 357.5 3551.2 352.3 3521.3 351.3 C3426.8 351.3 3393.0 343.0 3392 329.6" fill="none" stroke="#4a7ebb" stroke-width="1.3"/><text x="2524" y="852.1" font-family="Liberation Serif" font-size="83" text-anchor="middle" fill="#000">Attribute</text><text x="2524.5" y="951.8" font-family="Liberation Serif" font-size="83" text-anchor="middle" fill="#000">Recommender</text><line x1="2870.7" y1="665" x2="2870.7" y2="992" stroke="#000" stroke-width="2.6"/><line x1="2869.4" y1="992" x2="3253" y2="992" stroke="#000" stroke-width="2.6"/><polyline points="2877.7,677.4 2870.7,664.4 2863.7,677.4" fill="none" stroke="#000" stroke-width="2.6" stroke-linecap="round" stroke-linejoin="round"/><polyline points="3240.3,999.0 3253.3,992.0 3240.3,985.0" fill="none" stroke="#000" stroke-width="2.6" stroke-linecap="round" stroke-linejoin="round"/><line x1="2927.7" y1="737.5" x2="3151.9" y2="948" stroke="#000" stroke-width="2.6"/><line x1="2951" y1="712" x2="3177.2" y2="920.2" stroke="#000" stroke-width="2.9" stroke-dasharray="12 9"/><line x1="2904.8" y1="767.7" x2="3131" y2="975.3" stroke="#000" stroke-width="2.9" stroke-dasharray="12 9"/><rect x="3049.5" y="711.5" width="35.09999999999991" height="8" fill="#000"/><rect x="2980.4" y="740.8" width="35.0" height="8" fill="#000"/><rect x="3067" y="765" width="36" height="8" fill="#000"/><path d="M2938.5 832.6 h9.6 v11.2 h11.2 v9.6 h-11.2 v11.2 h-9.6 v-11.2 h-11.2 v-9.6 h11.2 Z" fill="#000"/><path d="M2943.3999999999996 911.5 h9.6 v11.2 h11.2 v9.6 h-11.2 v11.2 h-9.6 v-11.2 h-11.2 v-9.6 h11.2 Z" fill="#000"/><path d="M3042.2999999999997 941.7 h9.6 v11.2 h11.2 v9.6 h-11.2 v11.2 h-9.6 v-11.2 h-11.2 v-9.6 h11.2 Z" fill="#000"/><line x1="2340.2" y1="486.4" x2="2934" y2="834.5" stroke="#000" stroke-width="2.6"/><polyline points="2916.5,832.9 2935.0,835.0 2924.1,819.9" fill="none" stroke="#000" stroke-width="2.6" stroke-linecap="round" stroke-linejoin="round"/><line x1="2924.8" y1="503.6" x2="3007" y2="953.5" stroke="#000" stroke-width="2.6"/><polyline points="2996.8,938.9 3007.2,954.3 3011.5,936.2" fill="none" stroke="#000" stroke-width="2.6" stroke-linecap="round" stroke-linejoin="round"/><path d="M3609.2 510.4 C3609 640 3320 778 3009.5 781.3" fill="none" stroke="#000" stroke-width="2.6"/><polyline points="3024.2,773.8 3008.4,781.6 3024.5,788.8" fill="none" stroke="#000" stroke-width="2.6" stroke-linecap="round" stroke-linejoin="round"/>
</svg>
</body></html>
